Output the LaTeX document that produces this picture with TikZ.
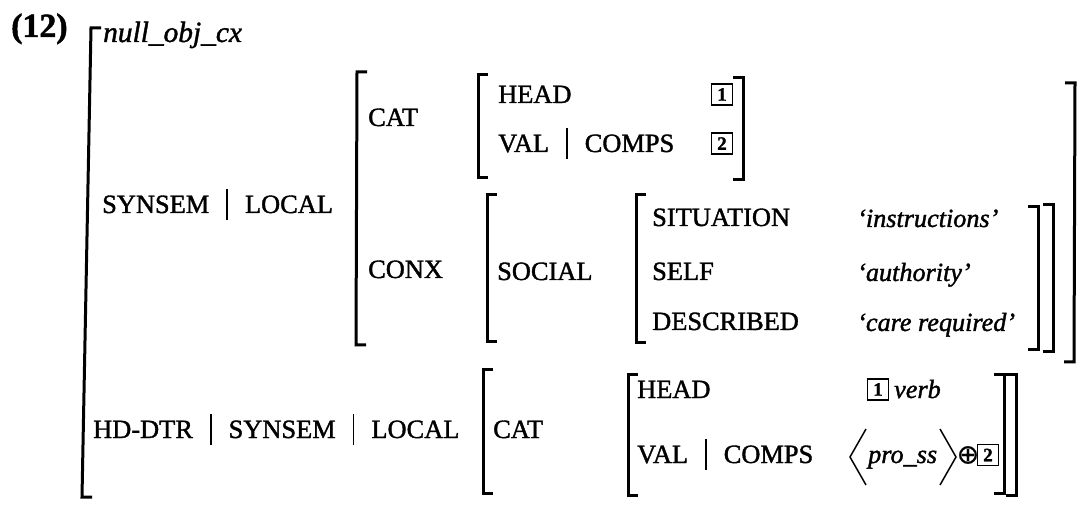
\documentclass[tikz,border=0pt]{standalone}
\usepackage{fontspec}
\setmainfont{Liberation Serif}[FakeBold=1.4]
\newfontfamily\symfont{DejaVu Sans}[FakeBold=0.6]
% path separator between feature names
\newcommand\fbar{\hspace{17bp}\rule[-7bp]{1.7bp}{31bp}\hspace{17bp}}
\begin{document}
\begin{tikzpicture}[x=1bp,y=-1bp,
  feat/.style={font=\fontsize{26.5}{30}\selectfont, anchor=base west, inner sep=0pt},
  val/.style={font=\fontsize{26.3}{30}\selectfont\itshape, anchor=base west, inner sep=0pt},
  tag/.style={draw, line width=1.8bp, minimum size=21bp, inner sep=0pt,
              font=\fontsize{19}{19}\selectfont\bfseries},
  brk/.style={line width=3bp, line join=miter},
  angle/.style={line width=1.5bp, line join=miter}]
\useasboundingbox (0,0) rectangle (1081,511);

% example number and type
\node[anchor=base west, inner sep=0pt, font=\fontsize{34}{38}\selectfont\bfseries] (num) at (11,37) {(12)};
\node[val, font=\fontsize{29.5}{33}\selectfont\itshape] (type) at (103,42) {null\_obj\_cx};

% outer matrix: left bracket only
\draw[brk] (101,28) -- (91,28) -- (82,497) -- (92,497);

% ---- SYNSEM | LOCAL ----
\node[feat] (sl) at (102,213) {SYNSEM\fbar LOCAL};
\draw[brk] (367,72) -- (357,72) -- (356,345) -- (366,345);
\draw[brk] (1065,83) -- (1075,83) -- (1074,362) -- (1064,362);

% CAT
\node[feat] (cat1) at (368,126) {CAT};
\draw[brk] (488,75) -- (478,75) -- (478,178) -- (488,178);
\draw[brk] (733,78) -- (743,78) -- (743,180) -- (733,180);
\node[feat] (head1) at (498,103) {HEAD};
\node[feat] (vc1) at (498,152) {VAL\fbar COMPS};
\node[tag] (t1a) at (722,94.5) {1};
\node[tag] (t2a) at (722,143.5) {2};

% CONX
\node[feat] (conx) at (368,278) {CONX};
\draw[brk] (497,195) -- (487,195) -- (487,342) -- (497,342);
\draw[brk] (1043,205) -- (1053,205) -- (1053,352) -- (1043,352);
\node[feat] (social) at (497,280) {SOCIAL};
\draw[brk] (646,195) -- (636,195) -- (636,343) -- (646,343);
\draw[brk] (1028,207) -- (1038,207) -- (1038,350) -- (1028,350);
\node[feat] (sit) at (652,226) {SITUATION};
\node[feat] (self) at (652,280) {SELF};
\node[feat] (desc) at (652,330) {DESCRIBED};
\node[val] (vsit) at (857,227) {‘instructions’};
\node[val] (vself) at (857,281) {‘authority’};
\node[val] (vdesc) at (857,331) {‘care required’};

% ---- HD-DTR | SYNSEM | LOCAL ----
\node[feat] (hd) at (93,438) {HD-DTR\fbar SYNSEM\fbar LOCAL};
\draw[brk] (493,370) -- (483,370) -- (483,493) -- (493,493);
\draw[brk] (1006,375) -- (1016,375) -- (1016,495) -- (1006,495);
\node[feat] (cat2) at (493,438) {CAT};
\draw[brk] (638,375) -- (628,375) -- (628,495) -- (638,495);
\draw[brk] (994,375) -- (1004,375) -- (1004,493) -- (994,493);
\node[feat] (head2) at (637,398) {HEAD};
\node[feat] (vc2) at (637,463) {VAL\fbar COMPS};
\node[tag] (t1b) at (878,389.5) {1};
\node[val] (verb) at (894,398) {verb};

% < pro_ss > (+) [2]
\coordinate (la) at (866,429);
\coordinate (lb) at (866,485);
\draw[angle] (la) -- (850,457) -- (lb);
\node[val] (pro) at (868,463) {pro\_ss};
\coordinate (ra) at (940,429);
\coordinate (rb) at (940,485);
\draw[angle] (ra) -- (956,457) -- (rb);
\node[inner sep=0pt, font=\fontsize{27}{30}\selectfont\symfont] (plus) at (968,455) {⊕};
\node[tag] (t2b) at (988,455) {2};
\end{tikzpicture}
\end{document}
